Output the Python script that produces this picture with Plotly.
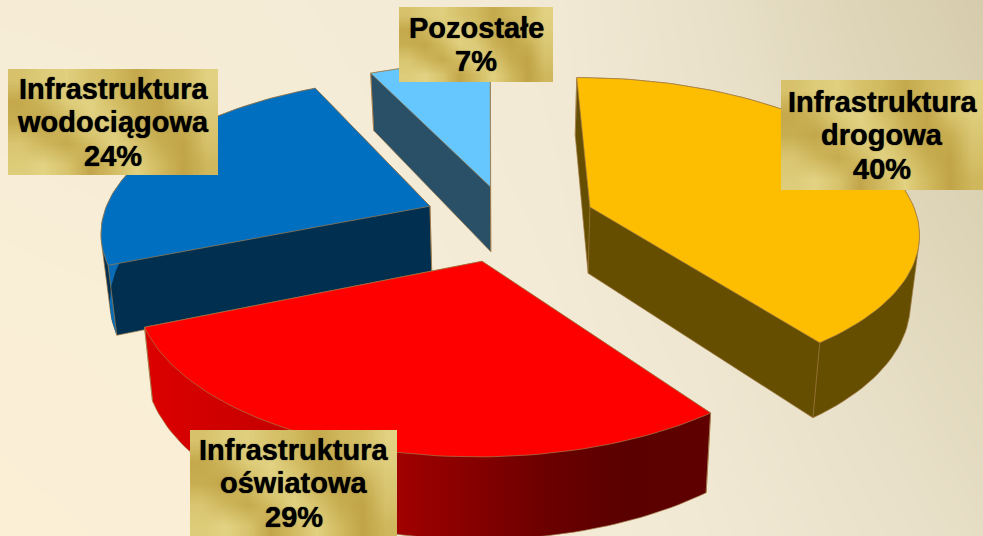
import numpy as np
import plotly.graph_objects as go

# ---------- data ----------
categories = [["Infrastruktura", "drogowa"], ["Infrastruktura", "oświatowa"],
              ["Infrastruktura", "wodociągowa"], ["Pozostałe"]]
values = [40, 29, 24, 7]
top_colors = ["#FDBD00", "#FF0000", "#006FC0", "#66C7FF"]
side_colors = ["#664E00", "#7A0000", "#002F50", "#2A5068"]
explode = [0.27, 0.27, 0.255, 0.23]
label_boxes = [(781, 983, 80, 190), (190, 397, 430, 536), (8, 218, 69, 175), (399, 553, 7, 82)]

# ---------- projection of the tilted pie onto the page ----------
CX, CY, A, B, K = 507.0, 220.0, 328.0, 152.5, 0.15
DEPTH, SHRINK = 67.0, 0.978
ROT = -0.5
EDGE = "#A47C48"
LINE_STEP = 33.5


def project(X, Y, down=False):
    w = 1 + K * Y
    sx = A * X / w
    sy = -B * Y / w
    if down:
        return CX + sx * SHRINK, CY + sy + DEPTH / w
    return CX + sx, CY + sy


def hull(pts):
    pts = sorted(set(pts))
    def half(seq):
        out = []
        for p in seq:
            while len(out) > 1 and ((out[-1][0]-out[-2][0])*(p[1]-out[-2][1])
                                    - (out[-1][1]-out[-2][1])*(p[0]-out[-2][0])) <= 0:
                out.pop()
            out.append(p)
        return out[:-1]
    return half(pts) + half(pts[::-1])


fig = go.Figure()

# page background
bg_x = [0, 200, 400, 560, 700, 850, 983]
bg_y = [0, 180, 360, 536]
bg_z = [[.20, .22, .30, .36, .58, .82, 1.0],
        [.12, .16, .26, .34, .52, .74, .90],
        [.04, .08, .20, .30, .42, .62, .76],
        [.00, .04, .14, .26, .36, .52, .66]]
fig.add_trace(go.Heatmap(x=bg_x, y=bg_y, z=bg_z, zsmooth="best", showscale=False, hoverinfo="skip",
                         zmin=0, zmax=1,
                         colorscale=[[0, "#FBEFD6"], [.3, "#F3EBD6"], [.6, "#E8E0C8"], [1, "#D6CCAC"]]))

total = sum(values)
start = ROT
slices = []
for i, v in enumerate(values):
    sweep = v / total * 360
    slices.append((i, start, start + sweep))
    start += sweep

for i, a0, a1 in [slices[3], slices[2], slices[0], slices[1]]:
    mid = np.radians((a0 + a1) / 2)
    ox, oy = explode[i] * np.sin(mid), explode[i] * np.cos(mid)
    th = np.radians(np.linspace(a0, a1, 80))
    X = ox + np.sin(th)
    Y = oy + np.cos(th)
    X_all = np.r_[ox, X]
    Y_all = np.r_[oy, Y]
    tx, ty = project(X_all, Y_all)
    bx, by = project(X_all, Y_all, down=True)
    pts = [(float(p), float(q)) for p, q in zip(np.r_[tx, bx], np.r_[ty, by])]
    h = hull(pts)
    hx = [p[0] for p in h] + [h[0][0]]
    hy = [p[1] for p in h] + [h[0][1]]
    side = dict(x=hx, y=hy, mode="lines", fill="toself", hoverinfo="skip", showlegend=False,
                line=dict(color=EDGE, width=0.7))
    if i == 1:
        side["fillgradient"] = dict(type="horizontal",
                                    colorscale=[[0, "#DC0000"], [.3, "#C00000"], [.5, "#960000"],
                                                [.72, "#6A0000"], [.85, "#5A0000"], [1, "#600000"]])
    else:
        side["fillcolor"] = side_colors[i]
    fig.add_trace(go.Scatter(**side))
    if i == 2:  # lit outer rim of the blue slice
        rx = np.r_[tx[1:], bx[1:][::-1]]
        ry = np.r_[ty[1:], by[1:][::-1]]
        fig.add_trace(go.Scatter(x=rx, y=ry, mode="lines", fill="toself", fillcolor="#0A6CB4",
                                 line=dict(width=0), hoverinfo="skip", showlegend=False))
    # corner edges
    for j in ([0, 1, len(tx)-1]):
        fig.add_trace(go.Scatter(x=[tx[j], bx[j]], y=[ty[j], by[j]], mode="lines", hoverinfo="skip",
                                 showlegend=False, line=dict(color=EDGE, width=0.7)))
    fig.add_trace(go.Scatter(x=np.r_[tx, tx[0]], y=np.r_[ty, ty[0]], mode="lines", fill="toself",
                             fillcolor=top_colors[i], line=dict(color=EDGE, width=0.7),
                             hoverinfo="skip", showlegend=False))

# gold label plates (texture levels, 0 dark gold – 1 pale gold)
gold = [[.62, .80, .88, .62, .45, .10, .40, .55, .90],
        [.10, .40, .80, .95, .55, .20, .05, .65, .85],
        [.20, .05, .45, .88, .80, .30, .05, .20, .72],
        [.70, .40, .15, .50, .92, .65, .20, .00, .60],
        [.80, .95, .65, .05, .50, .90, .45, .00, .40]]
nr, nc = len(gold), len(gold[0])
for (x0, x1, y0, y1) in label_boxes:
    gx = x0 + (np.arange(nc + 1)) * (x1 - x0) / nc
    gy = y0 + (np.arange(nr + 1)) * (y1 - y0) / nr
    fig.add_trace(go.Heatmap(x=(gx[:-1] + gx[1:]) / 2, y=(gy[:-1] + gy[1:]) / 2, z=gold,
                             zsmooth="fast", showscale=False, hoverinfo="skip", zmin=0, zmax=1,
                             xaxis="x2", yaxis="y2",
                             colorscale=[[0, "#C1A447"], [.5, "#D3BC62"], [1, "#E4D688"]]))

for (x0, x1, y0, y1), c, v in zip(label_boxes, categories, values):
    lines = c + [f"{v}%"]
    yc = (y0 + y1) / 2
    for n, t in enumerate(lines):
        fig.add_annotation(x=(x0 + x1) / 2, y=yc + (n - (len(lines) - 1) / 2) * LINE_STEP,
                           xref="x", yref="y", showarrow=False, text=t, align="center",
                           font=dict(family="Liberation Sans", size=29, color="black", weight="bold",
                                     shadow="0 0 1px #000"))

axis = dict(visible=False, showgrid=False, zeroline=False, fixedrange=True)
fig.update_layout(width=983, height=536, margin=dict(l=0, r=0, t=0, b=0), autosize=False,
                  paper_bgcolor="#F3EBD6", plot_bgcolor="rgba(0,0,0,0)", showlegend=False,
                  xaxis=dict(range=[0, 983], **axis), yaxis=dict(range=[536, 0], **axis),
                  xaxis2=dict(range=[0, 983], overlaying="x", **axis),
                  yaxis2=dict(range=[536, 0], overlaying="y", **axis))
fig.write_html("out.html", config={"displayModeBar": False},
               post_script="document.body.style.margin='0';document.body.style.overflow='hidden';")
